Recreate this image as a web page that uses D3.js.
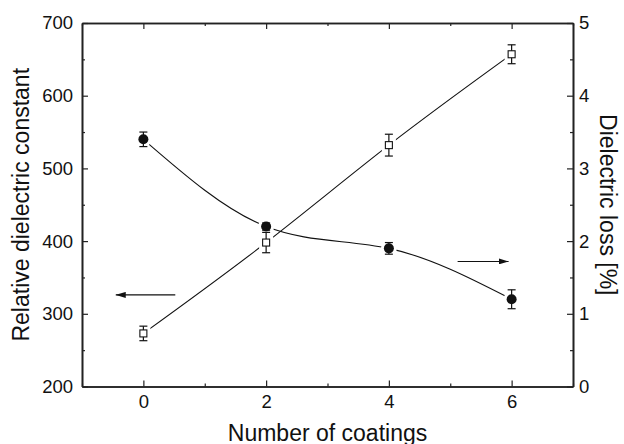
<!DOCTYPE html>
<html>
<head>
<meta charset="utf-8">
<script src="https://cdn.jsdelivr.net/npm/d3@7"></script>
<style>
  body { margin: 0; background: #fff; }
  svg { font-family: "Liberation Sans", Arial, sans-serif; }
  .axis path, .axis line { stroke: #222; }
  .axis text { font-size: 18.5px; fill: #111; }
</style>
</head>
<body>
<div id="chart"></div>
<script>
// data
var coatings = [0, 2, 4, 6];
var dielConst = [273, 398, 532, 657];
var dielConstErr = [10, 14, 15, 13];
var dielLoss = [3.4, 2.2, 1.9, 1.2];
var dielLossErr = [0.1, 0.05, 0.08, 0.13];
var xTicks = [0, 2, 4, 6];
var xMinorTicks = [-1, 1, 3, 5, 7];
var yLeftTicks = [200, 300, 400, 500, 600, 700];
var yLeftMinor = [250, 350, 450, 550, 650];
var yRightTicks = [0, 1, 2, 3, 4, 5];
var yRightMinor = [0.5, 1.5, 2.5, 3.5, 4.5];

var W = 624, H = 444;
var margin = { top: 23, right: 51, bottom: 57.5, left: 82 },
    width = W - margin.left - margin.right,
    height = H - margin.top - margin.bottom;

var svg = d3.select("#chart").append("svg")
    .attr("width", W)
    .attr("height", H);

var defs = svg.append("defs");
defs.append("marker")
    .attr("id", "arrow")
    .attr("viewBox", "0 0 10 6")
    .attr("refX", 10).attr("refY", 3)
    .attr("markerWidth", 10).attr("markerHeight", 6)
    .attr("markerUnits", "userSpaceOnUse")
    .attr("orient", "auto")
    .append("path")
    .attr("d", "M0,0L10,3L0,6Z")
    .attr("fill", "#111");

var g = svg.append("g")
    .attr("transform", "translate(" + margin.left + "," + margin.top + ")");

var x = d3.scaleLinear().domain([-1, 7]).range([0, width]);
var yL = d3.scaleLinear().domain([200, 700]).range([height, 0]);
var yR = d3.scaleLinear().domain([0, 5]).range([height, 0]);

// axes, ticks pointing inward
g.append("g").attr("class", "axis")
    .attr("transform", "translate(0," + height + ")")
    .call(d3.axisBottom(x).tickValues(xTicks).tickSize(-6).tickPadding(8).tickSizeOuter(0));
g.append("g").attr("class", "axis")
    .attr("transform", "translate(0," + height + ")")
    .call(d3.axisBottom(x).tickValues(xMinorTicks).tickSize(-3).tickFormat("").tickSizeOuter(0));
g.append("g").attr("class", "axis")
    .call(d3.axisTop(x).tickValues(xTicks).tickSize(-6).tickFormat("").tickSizeOuter(0));
g.append("g").attr("class", "axis")
    .call(d3.axisTop(x).tickValues(xMinorTicks).tickSize(-3).tickFormat("").tickSizeOuter(0));

g.append("g").attr("class", "axis")
    .call(d3.axisLeft(yL).tickValues(yLeftTicks).tickSize(-6).tickPadding(9).tickSizeOuter(0));
g.append("g").attr("class", "axis")
    .call(d3.axisLeft(yL).tickValues(yLeftMinor).tickSize(-3).tickFormat("").tickSizeOuter(0));

g.append("g").attr("class", "axis")
    .attr("transform", "translate(" + width + ",0)")
    .call(d3.axisRight(yR).tickValues(yRightTicks).tickSize(-6).tickPadding(6)
        .tickFormat(d3.format("d")).tickSizeOuter(0));
g.append("g").attr("class", "axis")
    .attr("transform", "translate(" + width + ",0)")
    .call(d3.axisRight(yR).tickValues(yRightMinor).tickSize(-3).tickFormat("").tickSizeOuter(0));

g.selectAll(".axis path.domain").attr("stroke-width", 1.6);
g.selectAll(".axis line").attr("stroke-width", 1.2);

// axis titles
svg.append("text")
    .attr("x", margin.left + width / 2)
    .attr("y", 440.5)
    .attr("text-anchor", "middle")
    .attr("font-size", 23)
    .attr("fill", "#111")
    .text("Number of coatings");

svg.append("text")
    .attr("transform", "translate(29," + (margin.top + height / 2) + ") rotate(-90)")
    .attr("text-anchor", "middle")
    .attr("font-size", 23)
    .attr("fill", "#111")
    .text("Relative dielectric constant");

svg.append("text")
    .attr("transform", "translate(600," + (margin.top + height / 2) + ") rotate(90)")
    .attr("text-anchor", "middle")
    .attr("font-size", 23)
    .attr("fill", "#111")
    .text("Dielectric loss [%]");

var constData = coatings.map(function (c, i) { return { x: c, y: dielConst[i], e: dielConstErr[i] }; });
var lossData = coatings.map(function (c, i) { return { x: c, y: dielLoss[i], e: dielLossErr[i] }; });

// curves
g.append("path")
    .datum(constData)
    .attr("fill", "none").attr("stroke", "#111").attr("stroke-width", 1.1)
    .attr("d", d3.line().curve(d3.curveNatural)
        .x(function (d) { return x(d.x); })
        .y(function (d) { return yL(d.y); }));

g.append("path")
    .datum(lossData)
    .attr("fill", "none").attr("stroke", "#111").attr("stroke-width", 1.1)
    .attr("d", d3.line().curve(d3.curveNatural)
        .x(function (d) { return x(d.x); })
        .y(function (d) { return yR(d.y); }));

// white halos so the lines stop short of the symbols
g.selectAll(".haloSq").data(constData).enter().append("rect")
    .attr("x", function (d) { return x(d.x) - 7; })
    .attr("y", function (d) { return yL(d.y) - 7; })
    .attr("width", 14).attr("height", 14)
    .attr("fill", "#fff");
g.selectAll(".haloCi").data(lossData).enter().append("circle")
    .attr("cx", function (d) { return x(d.x); })
    .attr("cy", function (d) { return yR(d.y); })
    .attr("r", 8)
    .attr("fill", "#fff");

// error bars
function errBars(data, yScale) {
    var eg = g.append("g").attr("stroke", "#111").attr("stroke-width", 1.2);
    eg.selectAll(".v").data(data).enter().append("line")
        .attr("x1", function (d) { return x(d.x); })
        .attr("x2", function (d) { return x(d.x); })
        .attr("y1", function (d) { return yScale(d.y - d.e); })
        .attr("y2", function (d) { return yScale(d.y + d.e); });
    eg.selectAll(".t").data(data).enter().append("line")
        .attr("x1", function (d) { return x(d.x) - 4; })
        .attr("x2", function (d) { return x(d.x) + 4; })
        .attr("y1", function (d) { return yScale(d.y + d.e); })
        .attr("y2", function (d) { return yScale(d.y + d.e); });
    eg.selectAll(".b").data(data).enter().append("line")
        .attr("x1", function (d) { return x(d.x) - 4; })
        .attr("x2", function (d) { return x(d.x) + 4; })
        .attr("y1", function (d) { return yScale(d.y - d.e); })
        .attr("y2", function (d) { return yScale(d.y - d.e); });
}
errBars(constData, yL);
errBars(lossData, yR);

// symbols
g.selectAll(".sq").data(constData).enter().append("rect")
    .attr("x", function (d) { return x(d.x) - 3.5; })
    .attr("y", function (d) { return yL(d.y) - 3.5; })
    .attr("width", 7).attr("height", 7)
    .attr("fill", "#fff").attr("stroke", "#111").attr("stroke-width", 1.1);
g.selectAll(".ci").data(lossData).enter().append("circle")
    .attr("cx", function (d) { return x(d.x); })
    .attr("cy", function (d) { return yR(d.y); })
    .attr("r", 5)
    .attr("fill", "#111");

// arrows showing which axis each curve belongs to
g.append("line")
    .attr("x1", x(0.52)).attr("x2", x(-0.45))
    .attr("y1", yL(326)).attr("y2", yL(326))
    .attr("stroke", "#111").attr("stroke-width", 1.1)
    .attr("marker-end", "url(#arrow)");
g.append("line")
    .attr("x1", x(5.12)).attr("x2", x(5.95))
    .attr("y1", yR(1.72)).attr("y2", yR(1.72))
    .attr("stroke", "#111").attr("stroke-width", 1.1)
    .attr("marker-end", "url(#arrow)");
</script>
</body>
</html>
